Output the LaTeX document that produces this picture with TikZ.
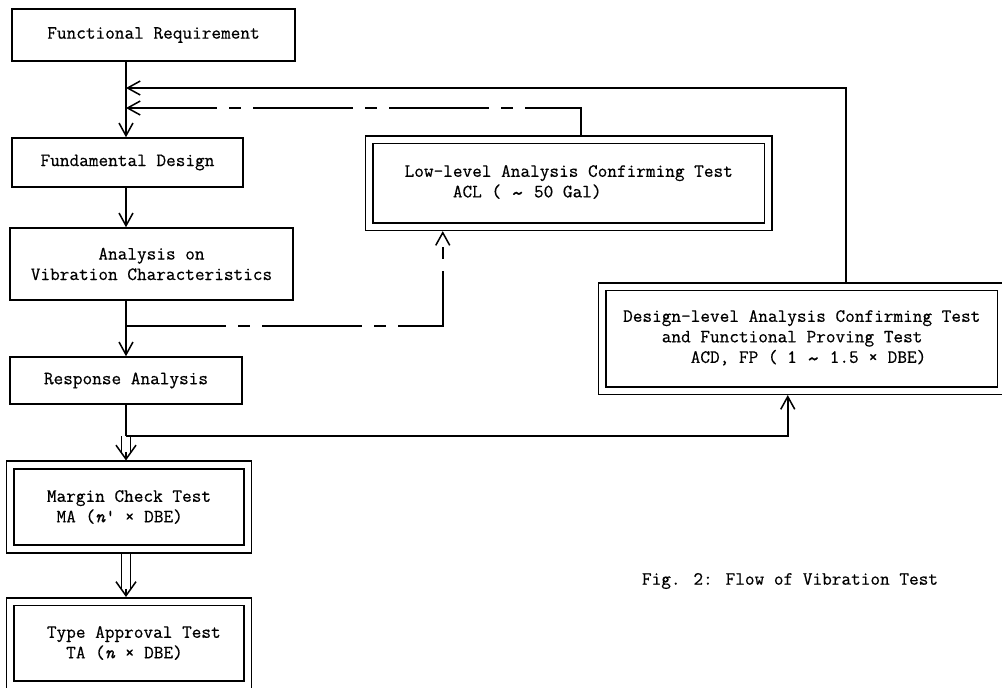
\documentclass[tikz,border=0pt]{standalone}
\usepackage{fontspec}
\usepackage{tikz}
\usetikzlibrary{arrows.meta, calc}
\newfontfamily\boxfont[FakeBold=0.5]{Latin Modern Mono}
\newcommand{\wave}{\raisebox{-0.5ex}{\scalebox{1.4}{\textasciitilde}}}

\begin{document}
\begin{tikzpicture}[x=0.03cm, y=-0.03cm,
    every node/.style={font=\boxfont\fontsize{16}{17.5}\selectfont},
    box/.style={draw, line width=1.3pt, inner sep=0pt, align=center},
    dblbox/.style={draw, double, double distance=0.18cm, line width=1.3pt, inner sep=0pt, outer sep=0.136cm},
    arr/.style={line width=1.3pt, -{Straight Barb[length=0.38cm, width=0.42cm]}},
    dbltip/.style={line width=1.3pt, -{Straight Barb[length=0.42cm, width=0.6cm]}},
    dbl/.style={double, double distance=0.22cm, line width=1.3pt},
    longdash/.style={dash pattern=on 3cm off 0.36cm on 0.36cm off 0.36cm}]
    \useasboundingbox (0,0) rectangle (1002,687);

    % Main chain
    \node[box, minimum width=8.49cm, minimum height=1.56cm] (freq) at (153.5,35) {Functional Requirement};
    \node[box, minimum width=6.93cm, minimum height=1.47cm] (fund) at (127.5,162.5) {Fundamental Design};
    \node[box, minimum width=8.49cm, minimum height=2.16cm] (avc) at (151.5,264) {Analysis on\\Vibration Characteristics};
    \node[box, minimum width=6.96cm, minimum height=1.41cm] (resp) at (126,380.5) {Response Analysis};

    % Tests
    \node[dblbox, minimum width=7.11cm, minimum height=2.52cm, align=left] (margin) at (129,507)
        {Margin Check Test\\\phantom{x}MA (\textit{n}' × DBE)};
    \node[dblbox, minimum width=7.11cm, minimum height=2.49cm, align=left] (type) at (129,643)
        {\phantom{x}Type Approval Test\\\phantom{xxx}TA (\textit{n} × DBE)};
    \node[dblbox, minimum width=11.96cm, minimum height=2.6cm, align=left] (low) at (568.75,183.25)
        {Low-level Analysis Confirming Test\\\phantom{xxxxx}ACL ( \wave{} 50 Gal)};
    \node[dblbox, minimum width=11.96cm, minimum height=3.12cm, align=left] (design) at (801.75,338.5)
        {Design-level Analysis Confirming Test\\\phantom{xxxx}and Functional Proving Test\\\phantom{xxxxxxx}ACD, FP ( 1 \wave{} 1.5 × DBE)};

    % Caption
    \node (cap) at (790,581) {Fig. 2: Flow of Vibration Test};

    % Joints on the spine
    \coordinate (fbA) at (126,88);
    \coordinate (fbB) at (126,108);
    \coordinate (brA) at (126,326);
    \coordinate (brB) at (126,436);

    % Spine
    \draw[arr] (freq.south -| fbA) -- (fund.north -| fbA);
    \draw[arr] (fund.south -| brA) -- (avc.north -| brA);
    \draw[arr] (avc.south -| brA) -- (resp.north -| brA);
    \draw[line width=1.3pt] (resp.south -| brB) -- (brB);
    \draw[dbl] (brB) -- ($(margin.north -| brB)+(0,-8)$);
    \draw[dbltip] ($(margin.north -| brB)+(0,-8)$) -- (margin.north -| brB);
    \draw[dbl] (margin.south -| brB) -- ($(type.north -| brB)+(0,-8)$);
    \draw[dbltip] ($(type.north -| brB)+(0,-8)$) -- (type.north -| brB);

    % Branches and feedback
    \draw[arr, longdash] (brA) -| ($(low.south)+(-126,0)$);
    \draw[arr, longdash, dash phase=0.5cm] ($(low.north)+(12,0)$) |- (fbB);
    \draw[arr] (brB) -| ($(design.south)+(-14,0)$);
    \draw[arr] ($(design.north)+(44,0)$) |- (fbA);
\end{tikzpicture}
\end{document}
